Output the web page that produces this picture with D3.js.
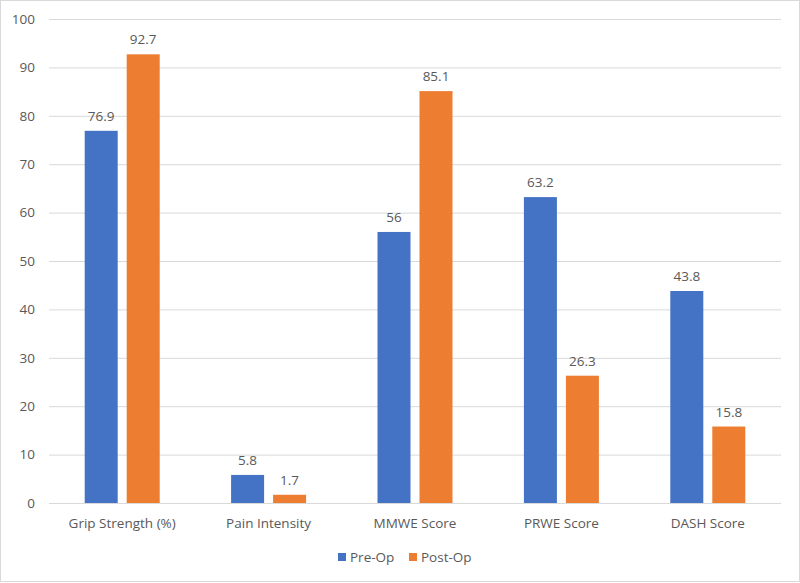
<!DOCTYPE html>
<html><head><meta charset="utf-8">
<script src="https://cdn.jsdelivr.net/npm/d3@7"></script>
<style>body{margin:0;background:#fff;} text{font-family:"Open Sans",sans-serif;fill:#595959;}</style>
</head><body>
<svg id="c" width="800" height="583"></svg>
<script>
const categories = ["Grip Strength (%)", "Pain Intensity", "MMWE Score", "PRWE Score", "DASH Score"];
const seriesNames = ["Pre-Op", "Post-Op"];
const preOp = [76.9, 5.8, 56, 63.2, 43.8];
const postOp = [92.7, 1.7, 85.1, 26.3, 15.8];
const yTicks = [0, 10, 20, 30, 40, 50, 60, 70, 80, 90, 100];
const colors = ["#4472C4", "#ED7D31"];

(function(){
const svg = d3.select("#c");
svg.append("rect").attr("x",0.5).attr("y",0.5).attr("width",799).attr("height",581)
  .attr("fill","#fff").attr("stroke","#d9d9d9");

const fs = 13.5;
const pLeft = 49, pRight = 781, pTop = 19, pBottom = 503;
const x = d3.scaleBand().domain(categories).range([pLeft, pRight]);
const y = d3.scaleLinear().domain([0, 100]).range([pBottom, pTop]);

const g = svg.append("g");
g.selectAll("line.grid").data(yTicks).join("line")
  .attr("x1", pLeft).attr("x2", pRight)
  .attr("y1", d => y(d) + 0.5).attr("y2", d => y(d) + 0.5)
  .attr("stroke", "#d9d9d9").attr("stroke-width", 1);

g.selectAll("text.yt").data(yTicks).join("text")
  .attr("x", 35).attr("y", d => y(d)).attr("dy", "0.35em")
  .attr("text-anchor", "end").attr("font-size", fs).text(d => d);

const barW = 33, gap = 9;
const data = [preOp, postOp];
data.forEach((vals, si) => {
  const off = si === 0 ? -(gap/2 + barW) : gap/2;
  g.selectAll("rect.s"+si).data(vals).join("rect").attr("class","s"+si)
    .attr("x", (d,i) => x(categories[i]) + x.bandwidth()/2 + off)
    .attr("y", d => y(d)).attr("width", barW)
    .attr("height", d => y(0) - y(d)).attr("fill", colors[si]);
  g.selectAll("text.v"+si).data(vals).join("text").attr("class","v"+si)
    .attr("x", (d,i) => x(categories[i]) + x.bandwidth()/2 + off + barW/2)
    .attr("y", d => y(d) - 10).attr("text-anchor", "middle")
    .attr("font-size", fs).text(d => d);
});

g.selectAll("text.cat").data(categories).join("text").attr("class","cat")
  .attr("x", d => x(d) + x.bandwidth()/2).attr("y", 528)
  .attr("text-anchor", "middle").attr("font-size", fs).text(d => d);

const legX = [338, 409];
seriesNames.forEach((n, i) => {
  svg.append("rect").attr("x", legX[i]).attr("y", 553).attr("width", 8).attr("height", 8).attr("fill", colors[i]);
  svg.append("text").attr("x", legX[i] + 12).attr("y", 557).attr("dy","0.35em").attr("font-size", fs).text(n);
});
})();
</script>
</body></html>
